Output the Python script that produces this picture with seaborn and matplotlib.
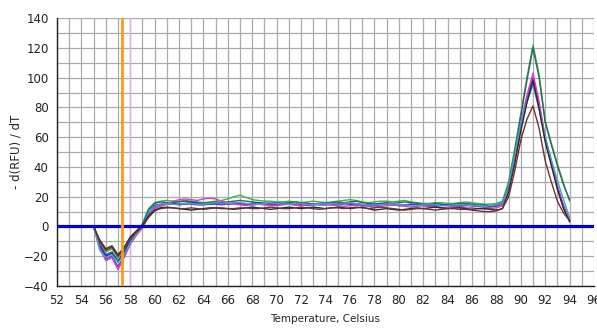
import numpy as np
import pandas as pd
import matplotlib
matplotlib.use('Agg')
import matplotlib.pyplot as plt
import seaborn as sns

# --- melt curve data (temperature step 0.5 C, 55..94) ---
temps = np.arange(55.0, 94.01, 0.5)

green = [0, -11, -17, -15, -21, -16, -8, -4, 2, 12,
         16, 17, 17.5, 17, 17, 17.5, 17, 16.5, 16, 16.5,
         17, 17.5, 18.5, 20, 21, 19.5, 18, 17.5, 17, 17,
         16.5, 16.5, 17, 16.5, 16, 16.5, 17, 16.5, 16, 16.5,
         17, 17.5, 18, 17.5, 16.5, 16, 16.5, 17, 17, 16.5,
         17, 17.5, 16.5, 16, 15.5, 15.5, 16, 16, 15.5, 15.5,
         16, 16.5, 16, 15.5, 15, 15, 15.5, 17, 30, 52,
         76, 100, 122, 102, 71, 56, 42, 29, 17]

teal = [0, -12, -19, -17, -23, -17, -9, -4, 1, 11,
        15.5, 16.5, 16, 16, 16.5, 17, 16.5, 16, 15.5, 16,
        16.5, 16, 16.5, 17, 17.5, 17, 16.5, 16, 15.5, 16,
        16, 15.5, 16, 16.5, 16, 15.5, 15, 15.5, 16, 16,
        16.5, 16, 16.5, 17, 16, 15.5, 15, 15.5, 16, 15.5,
        16, 16.5, 16, 15.5, 15, 15, 15.5, 15, 14.5, 15,
        15.5, 15.5, 15, 14.5, 14.5, 14, 14.5, 16, 28, 50,
        74, 98, 120, 100, 70, 55, 41, 28, 18]

blue = [0, -13, -20, -18, -24, -18, -10, -5, 0, 9,
        14, 15, 15.5, 15.5, 15, 15.5, 16, 15.5, 15, 15,
        15.5, 15.5, 15, 15.5, 15.5, 15, 15.5, 16, 15.5, 15,
        15, 15.5, 15, 14.5, 15, 15.5, 15, 14.5, 14.5, 15,
        15.5, 15.5, 15, 14.5, 14, 14.5, 15, 15.5, 15, 14.5,
        14, 14.5, 15, 14.5, 14, 13.5, 14, 14.5, 14.5, 14,
        14, 14.5, 14, 13.5, 13.5, 13.5, 14, 15, 26, 46,
        68, 84, 97, 80, 59, 44, 27, 14, 4]

purple = [0, -14, -22, -20, -27, -20, -11, -5, 0, 8,
          13, 14.5, 15, 15, 14.5, 15, 15, 14.5, 14.5, 15,
          15, 14.5, 15, 15.5, 15, 14.5, 14.5, 15, 15, 14.5,
          14.5, 15, 15.5, 15, 14.5, 14, 14.5, 15, 15, 14.5,
          14.5, 15, 15.5, 15, 14.5, 14.5, 14, 14.5, 15, 14.5,
          14.5, 14, 14.5, 15, 14.5, 14, 13.5, 14, 14.5, 14,
          13.5, 14, 14, 13.5, 13, 13, 13.5, 15, 27, 47,
          68, 86, 100, 82, 58, 43, 26, 13, 4]

magenta = [0, -15, -23, -21, -29, -21, -12, -6, -1, 7,
           12, 13.5, 15, 17, 18, 18.5, 18, 17.5, 18.5, 19,
           18.5, 17, 16, 15, 14.5, 14, 14.5, 15, 14.5, 14,
           14, 14.5, 15, 14.5, 14, 14.5, 15, 15.5, 15, 14.5,
           14, 13.5, 14, 14.5, 14, 13.5, 13, 13.5, 14, 14.5,
           14, 13.5, 13, 13.5, 14, 13.5, 13, 12.5, 13, 13.5,
           13, 12.5, 12.5, 12, 12, 12, 12.5, 14, 26, 47,
           70, 88, 103, 84, 60, 44, 27, 13, 4]

cyan = [0, -16, -21, -19, -24, -19, -11, -5, 0, 9,
        13.5, 15, 15.5, 15, 15, 15.5, 15.5, 15, 15, 15.5,
        16, 15.5, 15.5, 16, 16, 15.5, 15, 15, 15.5, 16,
        15.5, 15, 15, 15.5, 15.5, 15, 14.5, 15, 15.5, 15.5,
        15, 15.5, 16, 15.5, 15, 14.5, 14.5, 15, 15, 15,
        15, 14.5, 14, 14, 14.5, 15, 14.5, 14, 14, 14.5,
        14.5, 14.5, 14, 14, 13.5, 14, 14.5, 15.5, 27, 48,
        69, 84, 95, 79, 60, 45, 31, 18, 6]

black = [0, -9, -15, -13, -19, -14, -7, -3, 1, 7,
         11, 12.5, 13, 12.5, 12, 11.5, 11, 11.5, 12, 12.5,
         12.5, 12, 12, 11.5, 12, 12.5, 13, 12.5, 12, 11.5,
         12, 12.5, 13, 12.5, 12, 12.5, 13, 12.5, 12, 12.5,
         13, 12.5, 12, 12.5, 13, 12, 11, 11.5, 12, 11.5,
         11, 11.5, 12, 12.5, 12, 12.5, 13, 12.5, 12, 12.5,
         12.5, 12, 11.5, 12, 12, 11.5, 11, 12, 23, 42,
         64, 83, 98, 79, 57, 41, 25, 12, 3]

brown = [0, -10, -16, -14, -20, -15, -8, -4, 0, 6,
         10.5, 12, 12.5, 12.5, 12, 12, 12.5, 12, 11.5, 12,
         12.5, 12.5, 12, 12, 12.5, 12.5, 12, 12, 12.5, 13,
         12.5, 12, 12, 12.5, 13, 12.5, 12, 11.5, 12, 12.5,
         12.5, 12, 12.5, 13, 12.5, 12, 12.5, 13, 12.5, 12,
         11.5, 11, 11.5, 12, 12, 11.5, 11, 11.5, 12, 12,
         11.5, 11.5, 11, 10.5, 10, 10, 10.5, 12, 20, 37,
         58, 72, 81, 66, 44, 30, 17, 9, 4]

series = {'green': green, 'teal': teal, 'blue': blue, 'purple': purple,
          'magenta': magenta, 'cyan': cyan, 'black': black, 'brown': brown}
colors = {'green': '#3cb43c', 'teal': '#2f6464', 'blue': '#2222dd',
          'purple': '#7a35b0', 'magenta': '#d040c8', 'cyan': '#3aa8c8',
          'black': '#2a2a2a', 'brown': '#703030'}

df = pd.concat([pd.DataFrame({'temp': temps, 'val': v, 'well': k})
                for k, v in series.items()], ignore_index=True)

threshold = 0      # blue horizontal threshold line
marker_temp = 57.3  # orange marker line
marker2_temp = 58.0

sns.set_style('white')
plt.rcParams['font.family'] = ['DejaVu Sans']

fig = plt.figure(figsize=(5.97, 3.29), dpi=100)
ax = fig.add_axes([0.0955, 0.1307, 0.8995, 0.8143])

ax.set_xlim(52, 96)
ax.set_ylim(-40, 140)
ax.set_xticks(np.arange(52, 97, 2))
ax.set_xticks(np.arange(52, 97, 1), minor=True)
ax.set_yticks(np.arange(-40, 141, 20))
ax.set_yticks(np.arange(-40, 141, 10), minor=True)
ax.grid(True, which='both', color='#aaaaaa', lw=0.9)
ax.set_axisbelow(True)

ax.axvline(marker2_temp, color='#d8b0e8', lw=1, zorder=2)
sns.lineplot(data=df, x='temp', y='val', hue='well', palette=colors,
             estimator=None, units='well', lw=1, legend=False, ax=ax, zorder=3)
ax.axhline(threshold, color='#0000dd', lw=2.3, zorder=4)
ax.axvline(marker_temp, color='#ff9a10', lw=2, zorder=5)

for s in ['top', 'right']:
    ax.spines[s].set_visible(False)
for s in ['left', 'bottom']:
    ax.spines[s].set_color('#202020')
    ax.spines[s].set_linewidth(1)

ax.tick_params(which='both', direction='inout', color='#202020', width=1)
ax.tick_params(which='major', length=6, labelsize=8.5, pad=3, labelcolor='#222222')
ax.tick_params(which='minor', length=5)

ax.set_xlabel('Temperature, Celsius', fontsize=7.5, labelpad=5)
ax.set_ylabel('- d(RFU) / dT', fontsize=8.5, labelpad=1)

plt.savefig('out.png', dpi=100)
